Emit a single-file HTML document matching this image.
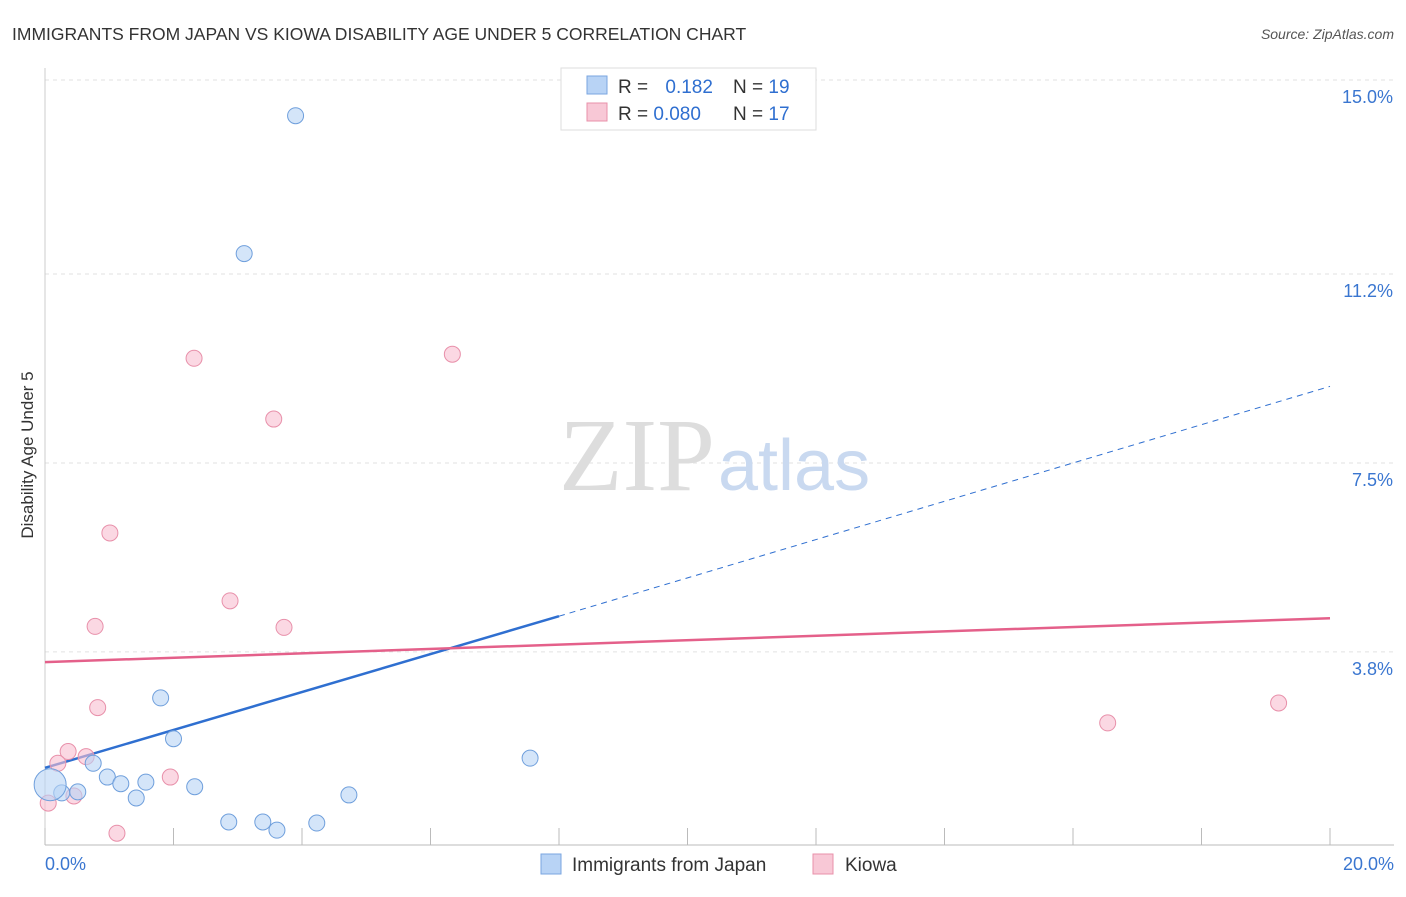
<!DOCTYPE html>
<html><head><meta charset="utf-8"><style>
body{margin:0;background:#fff;font-family:"Liberation Sans",sans-serif;}
svg text{font-family:"Liberation Sans",sans-serif;}
</style></head><body>
<svg width="1406" height="892" xmlns="http://www.w3.org/2000/svg">
<text x="12" y="40" font-size="17.5" fill="#333">IMMIGRANTS FROM JAPAN VS KIOWA DISABILITY AGE UNDER 5 CORRELATION CHART</text>
<text x="1394" y="39" font-size="14" fill="#555" font-style="italic" text-anchor="end">Source: ZipAtlas.com</text>
<text x="33" y="455" font-size="17" fill="#333" transform="rotate(-90 33 455)" text-anchor="middle">Disability Age Under 5</text>
<g id="grid"></g>
<text x="715" y="490" font-size="104" fill="#ddd" text-anchor="end" style="font-family:'Liberation Serif',serif">ZIP</text>
<text x="718" y="490" font-size="72" fill="#c9d9f0">atlas</text>
<g id="lines"></g>
<g id="points"></g>
<g>
<rect x="561" y="68" width="255" height="62" fill="#fff" stroke="#ddd"/>
<rect x="587" y="76" width="20" height="18" fill="#b8d3f5" stroke="#7aa6e0"/>
<text x="618" y="93" font-size="19" fill="#333">R = <tspan fill="#2f6fd0" dx="12">0.182</tspan></text>
<text x="733" y="93" font-size="19" fill="#333">N = <tspan fill="#2f6fd0">19</tspan></text>
<rect x="587" y="103" width="20" height="18" fill="#f8c8d6" stroke="#e890aa"/>
<text x="618" y="120" font-size="19" fill="#333">R = <tspan fill="#2f6fd0">0.080</tspan></text>
<text x="733" y="120" font-size="19" fill="#333">N = <tspan fill="#2f6fd0">17</tspan></text>
</g>
<g>
<rect x="541" y="854" width="20" height="20" fill="#b8d3f5" stroke="#7aa6e0"/>
<text x="572" y="871" font-size="19" fill="#333">Immigrants from Japan</text>
<rect x="813" y="854" width="20" height="20" fill="#f8c8d6" stroke="#e890aa"/>
<text x="845" y="871" font-size="19" fill="#333">Kiowa</text>
</g>
</svg>
<script>
const yTicks=[15.0,11.2,7.5,3.8];
const yTickLabels=["15.0%","11.2%","7.5%","3.8%"];
const xTickLabels=["0.0%","20.0%"];
const japanX=[3.9,3.1,1.8,2.0,0.75,0.97,1.18,1.57,2.33,1.42,0.26,0.51,0.08,4.73,7.55,2.86,3.39,3.61,4.23];
const japanY=[14.3,11.6,2.9,2.1,1.62,1.35,1.22,1.25,1.16,0.94,1.04,1.06,1.2,1.0,1.72,0.47,0.47,0.31,0.45];
const kiowaX=[2.32,6.34,3.56,1.01,2.88,3.72,0.78,0.82,0.36,0.64,0.2,1.95,0.45,0.05,1.12,16.54,19.2];
const kiowaY=[9.55,9.63,8.36,6.13,4.8,4.28,4.3,2.71,1.85,1.75,1.62,1.35,0.98,0.84,0.25,2.41,2.8];
const japanTrend=[0,1.53,8,4.5,20,9.0];
const kiowaTrend=[0,3.6,20,4.46];
const NS="http://www.w3.org/2000/svg";
const X=v=>45+v*64.25, Y=v=>846-v*51.07;
function mk(t,a,p){const e=document.createElementNS(NS,t);for(const k in a)e.setAttribute(k,a[k]);p.appendChild(e);return e;}
const grid=document.getElementById('grid');
yTicks.forEach((t,i)=>{
 const l=mk('line',{x1:45,x2:1394,y1:Y(t),y2:Y(t),stroke:'#e2e2e2','stroke-dasharray':'4 4'},grid);
 
 
 const tx=mk('text',{x:1393,y:Y(t)+23,'font-size':18,fill:'#3a76d0','text-anchor':'end'},grid);
 tx.textContent=yTickLabels[i];
 
 
});
const ax=mk('line',{x1:45,x2:1394,y1:845,y2:845,stroke:'#bbb'},grid);


const ay=mk('line',{x1:45,x2:45,y1:68,y2:845,stroke:'#ccc'},grid);


for(let i=0;i<=10;i++){const t=mk('line',{x1:X(i*2),x2:X(i*2),y1:828,y2:845,stroke:'#bbb'},grid);
 
 }
[[0,45,'start'],[1,1394,'end']].forEach(([i,x,a])=>{const t=mk('text',{x:x,y:870,'font-size':18,fill:'#3a76d0','text-anchor':a},grid);t.textContent=xTickLabels[i];
 
 });
const lines=document.getElementById('lines');
let l1=mk('line',{x1:X(japanTrend[0]),y1:Y(japanTrend[1]),x2:X(japanTrend[2]),y2:Y(japanTrend[3]),stroke:'#2f6fd0','stroke-width':2.5},lines);


let l2=mk('line',{x1:X(japanTrend[2]),y1:Y(japanTrend[3]),x2:X(japanTrend[4]),y2:Y(japanTrend[5]),stroke:'#2f6fd0','stroke-width':1,'stroke-dasharray':'6 5'},lines);


let l3=mk('line',{x1:X(kiowaTrend[0]),y1:Y(kiowaTrend[1]),x2:X(kiowaTrend[2]),y2:Y(kiowaTrend[3]),stroke:'#e4608a','stroke-width':2.5},lines);


const pts=document.getElementById('points');
kiowaX.forEach((v,i)=>{const c=mk('circle',{cx:X(v),cy:Y(kiowaY[i]),r:8,fill:'rgba(248,190,208,0.6)',stroke:'#e890aa'},pts);
 
 });
japanX.forEach((v,i)=>{const c=mk('circle',{cx:X(v),cy:Y(japanY[i]),r:i==12?16:8,fill:'rgba(184,211,245,0.6)',stroke:'#6f9fdc'},pts);
 
 });
</script>
</body></html>
